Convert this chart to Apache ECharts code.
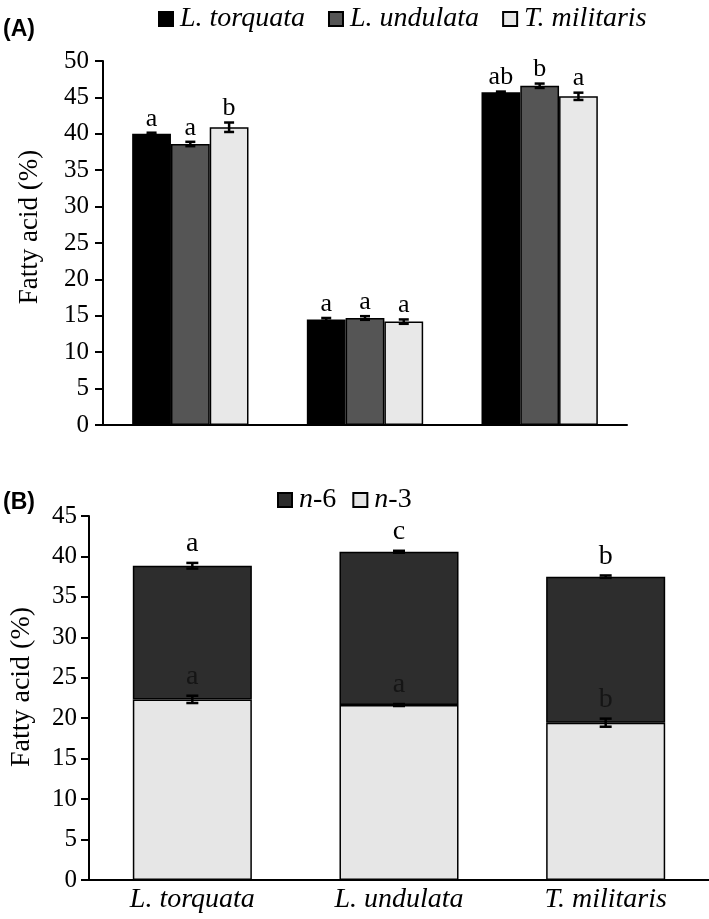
<!DOCTYPE html>
<html>
<head>
<meta charset="utf-8">
<script src="https://cdn.jsdelivr.net/npm/echarts@6/dist/echarts.min.js"></script>
<style>
html,body{margin:0;padding:0;background:#fff;}
#chart{width:709px;height:919px;}
</style>
</head>
<body>
<div id="chart"></div>
<script>
// ---------- data ----------
const groupsA = ['SFA', 'MUFA', 'PUFA'];
const species = ['L. torquata', 'L. undulata', 'T. militaris'];

const torquataA = [40.0, 14.5, 45.7];
const undulataA = [38.6, 14.7, 46.6];
const militarisA = [40.9, 14.2, 45.15];
const torquataErrA = [0.15, 0.2, 0.1];
const undulataErrA = [0.3, 0.25, 0.3];
const militarisErrA = [0.65, 0.3, 0.5];
const torquataLetters = ['a', 'a', 'ab'];
const undulataLetters = ['a', 'a', 'b'];
const militarisLetters = ['b', 'a', 'a'];

const n3 = [22.33, 21.63, 19.45];
const n6 = [16.52, 18.95, 18.05];
const n3Err = [0.45, 0.12, 0.5];
const totalErr = [0.35, 0.12, 0.15];
const n3Letters = ['a', 'a', 'b'];
const totalLetters = ['a', 'c', 'b'];

const yTicksA = {min: 0, max: 50, interval: 5};
const yTicksB = {min: 0, max: 45, interval: 5};

// ---------- helpers ----------
const SERIF = '"Liberation Serif", "Times New Roman", serif';
const SANS = '"Liberation Sans", Arial, sans-serif';
const BAR_PCT_A = 0.222;

function errRender(offsetFn, letters, gap, fs, color, capHalf) {
  return function (params, api) {
    const i = api.value(0), v = api.value(1), e = api.value(2);
    const band = api.size([1, 0])[0];
    const x = api.coord([i, v])[0] + offsetFn(band);
    const yT = api.coord([i, v + e])[1];
    const yB = api.coord([i, v - e])[1];
    const s = {stroke: '#000', lineWidth: 2.5};
    return {
      type: 'group',
      children: [
        {type: 'line', shape: {x1: x, y1: yT, x2: x, y2: yB}, style: s},
        {type: 'line', shape: {x1: x - capHalf, y1: yT, x2: x + capHalf, y2: yT}, style: s},
        {type: 'line', shape: {x1: x - capHalf, y1: yB, x2: x + capHalf, y2: yB}, style: s},
        {type: 'text', x: x, y: yT - gap,
          style: {text: letters[params.dataIndex], fill: color, fontSize: fs,
            fontFamily: SERIF, align: 'center', verticalAlign: 'bottom'}}
      ]
    };
  };
}

function triple(vals, errs) {
  return vals.map((v, i) => [i, v, errs[i]]);
}

const totals = n3.map((v, i) => v + n6[i]);

const barBorder = {borderColor: '#000', borderWidth: 1.5};

const yAxisCommon = {
  type: 'value',
  axisLine: {show: true, lineStyle: {color: '#000', width: 2}},
  axisTick: {show: true, inside: false, length: 8, lineStyle: {color: '#000', width: 2}},
  splitLine: {show: false},
  axisLabel: {color: '#000', fontSize: 25, fontFamily: SERIF}
};

const option = {
  animation: false,
  backgroundColor: '#fff',
  grid: [
    {left: 103, top: 61, width: 524, height: 364},
    {left: 89, top: 516, width: 620, height: 364}
  ],
  legend: [
    {
      data: species,
      left: 153, top: 0,
      icon: 'rect', itemWidth: 14, itemHeight: 14, itemGap: 23,
      textStyle: {fontSize: 28, fontFamily: SERIF, fontStyle: 'italic', color: '#000', padding: [0, 0, 0, 2]},
      selectedMode: false
    },
    {
      data: ['n-6', 'n-3'],
      left: 272, top: 481,
      icon: 'rect', itemWidth: 14, itemHeight: 14, itemGap: 16,
      formatter: function (name) { return '{i|n}{r|' + name.slice(1) + '}'; },
      textStyle: {
        fontSize: 28, fontFamily: SERIF, color: '#000', padding: [0, 0, 0, 2],
        rich: {
          i: {fontSize: 28, fontFamily: SERIF, fontStyle: 'italic', color: '#000'},
          r: {fontSize: 28, fontFamily: SERIF, color: '#000'}
        }
      },
      selectedMode: false
    }
  ],
  xAxis: [
    {
      type: 'category', gridIndex: 0, data: groupsA,
      axisLine: {show: true, lineStyle: {color: '#000', width: 2}},
      axisTick: {show: false}, axisLabel: {show: false}, splitLine: {show: false}
    },
    {
      type: 'category', gridIndex: 1, data: species,
      axisLine: {show: true, lineStyle: {color: '#000', width: 2}},
      axisTick: {show: false},
      axisLabel: {color: '#000', fontSize: 28, fontFamily: SERIF, fontStyle: 'italic', margin: 6},
      splitLine: {show: false}
    }
  ],
  yAxis: [
    Object.assign({gridIndex: 0}, yAxisCommon, yTicksA, {axisLabel: Object.assign({}, yAxisCommon.axisLabel, {margin: 14})}),
    Object.assign({gridIndex: 1}, yAxisCommon, yTicksB, {axisLabel: Object.assign({}, yAxisCommon.axisLabel, {margin: 12})})
  ],
  graphic: [
    {type: 'text', x: 3, y: 18, style: {text: '(A)', fontSize: 23, fontWeight: 'bold', fontFamily: SANS, fill: '#000'}},
    {type: 'text', x: 3, y: 491, style: {text: '(B)', fontSize: 23, fontWeight: 'bold', fontFamily: SANS, fill: '#000'}},
    {type: 'text', x: 30, y: 227, rotation: Math.PI / 2,
      style: {text: 'Fatty acid (%)', fontSize: 27, fontFamily: SERIF, fill: '#000', align: 'center', verticalAlign: 'middle'}},
    {type: 'text', x: 22, y: 687, rotation: Math.PI / 2,
      style: {text: 'Fatty acid (%)', fontSize: 28, fontFamily: SERIF, fill: '#000', align: 'center', verticalAlign: 'middle'}}
  ],
  series: [
    {name: species[0], type: 'bar', xAxisIndex: 0, yAxisIndex: 0, data: torquataA,
      barWidth: (BAR_PCT_A * 100) + '%', barGap: '0%', itemStyle: Object.assign({color: '#000'}, barBorder)},
    {name: species[1], type: 'bar', xAxisIndex: 0, yAxisIndex: 0, data: undulataA,
      barWidth: (BAR_PCT_A * 100) + '%', barGap: '0%', itemStyle: Object.assign({color: '#555555'}, barBorder)},
    {name: species[2], type: 'bar', xAxisIndex: 0, yAxisIndex: 0, data: militarisA,
      barWidth: (BAR_PCT_A * 100) + '%', barGap: '0%', itemStyle: Object.assign({color: '#e8e8e8'}, barBorder)},
    {type: 'custom', xAxisIndex: 0, yAxisIndex: 0, z: 5, data: triple(torquataA, torquataErrA),
      renderItem: errRender(b => -b * BAR_PCT_A, torquataLetters, 1, 26, '#000', 5)},
    {type: 'custom', xAxisIndex: 0, yAxisIndex: 0, z: 5, data: triple(undulataA, undulataErrA),
      renderItem: errRender(b => 0, undulataLetters, 1, 26, '#000', 5)},
    {type: 'custom', xAxisIndex: 0, yAxisIndex: 0, z: 5, data: triple(militarisA, militarisErrA),
      renderItem: errRender(b => b * BAR_PCT_A, militarisLetters, 1, 26, '#000', 5)},

    {name: 'n-3', type: 'bar', xAxisIndex: 1, yAxisIndex: 1, stack: 'fa', data: n3,
      barWidth: '57.6%', itemStyle: Object.assign({color: '#e6e6e6'}, barBorder)},
    {name: 'n-6', type: 'bar', xAxisIndex: 1, yAxisIndex: 1, stack: 'fa', data: n6,
      barWidth: '57.6%', itemStyle: Object.assign({color: '#2d2d2d'}, barBorder)},
    {type: 'custom', xAxisIndex: 1, yAxisIndex: 1, z: 5, data: triple(n3, n3Err),
      renderItem: errRender(b => 0, n3Letters, 5, 28, '#151515', 6)},
    {type: 'custom', xAxisIndex: 1, yAxisIndex: 1, z: 5, data: triple(totals, totalErr),
      renderItem: errRender(b => 0, totalLetters, 5, 28, '#000', 6)}
  ]
};

const chart = echarts.init(document.getElementById('chart'), null, {renderer: 'canvas'});
chart.setOption(option);
</script>
</body>
</html>
